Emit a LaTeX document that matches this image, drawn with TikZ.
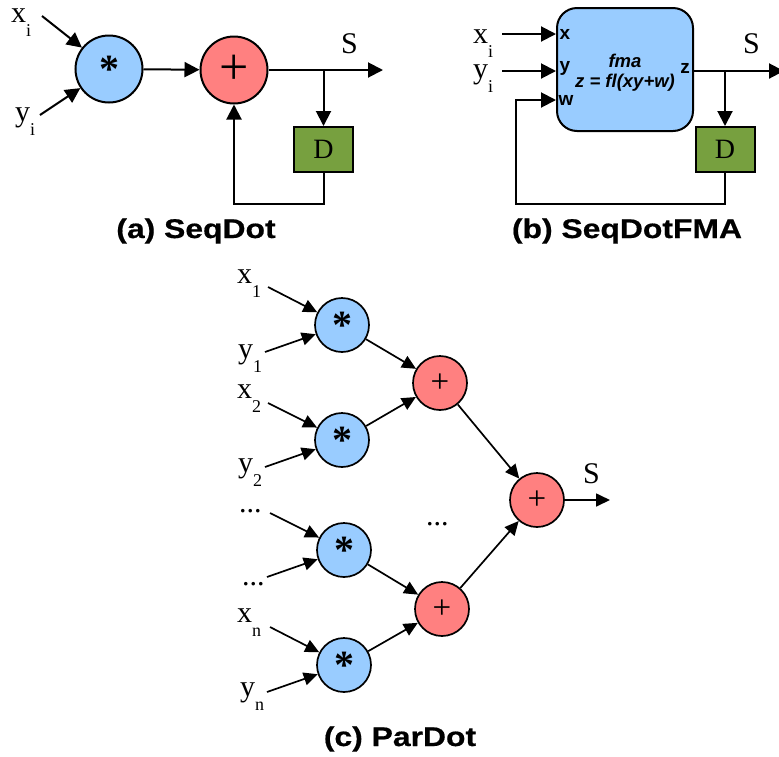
\documentclass[tikz,border=0pt]{standalone}
\usepackage{fontspec}
\setmainfont{Liberation Serif}
\newfontfamily\capfont[FakeStretch=1.18,FakeBold=0.6]{Liberation Sans}
\newfontfamily\portfont{Liberation Sans}
\usetikzlibrary{arrows.meta,calc}
\definecolor{mulblue}{RGB}{153,204,255}
\definecolor{addred}{RGB}{255,128,128}
\definecolor{dgreen}{RGB}{119,160,63}
\newcommand\sublab[2]{#1\raisebox{-14pt}{\fontsize{18}{18}\selectfont #2}}
\tikzset{
  wire/.style={line width=2pt},
  arr/.style={wire,-{Triangle[length=15pt,width=15pt]}},
  arrc/.style={line width=1.7pt,-{Triangle[length=14pt,width=13pt]}},
  mulA/.style={circle,draw,line width=2pt,fill=mulblue,minimum size=67pt,inner sep=0pt,font=\bfseries\fontsize{40}{40}\selectfont},
  addA/.style={circle,draw,line width=2pt,fill=addred,minimum size=67pt,inner sep=0pt,font=\fontsize{52}{52}\selectfont},
  mulC/.style={circle,draw,line width=1.7pt,fill=mulblue,minimum size=54pt,inner sep=0pt,font=\bfseries\fontsize{40}{40}\selectfont},
  addC/.style={circle,draw,line width=1.7pt,fill=addred,minimum size=54pt,inner sep=0pt,font=\fontsize{33}{33}\selectfont},
  dbox/.style={draw,line width=2pt,fill=dgreen,minimum width=59pt,minimum height=45pt,inner sep=0pt,font=\fontsize{28}{28}\selectfont},
  fmabox/.style={draw,line width=2pt,fill=mulblue,rounded corners=20pt,minimum width=136pt,minimum height=123pt,inner sep=0pt},
  lab/.style={inner sep=0pt,anchor=base west,font=\fontsize{30}{36}\selectfont},
  captext/.style={inner sep=0pt,anchor=base,font=\capfont\bfseries\fontsize{27}{30}\selectfont},
  port/.style={inner sep=0pt,font=\portfont\bfseries\fontsize{19}{20}\selectfont},
  fmatxt/.style={inner sep=0pt,font=\portfont\bfseries\itshape\fontsize{18.5}{20}\selectfont},
}
\begin{document}
\begin{tikzpicture}[x=1pt,y=-1pt]
\useasboundingbox (0,0) rectangle (779,756);
% ---------------- (a) SeqDot
\node[mulA] (ma) at (109,69) {*};
\node[addA] (pa) at (234,70) {+};
\node[dbox] (da) at (323.5,149.5) {D};
\node[lab] (xa) at (11,22) {\sublab{x}{i}};
\node[lab] (ya) at (15,121) {\sublab{y}{i}};
\node[lab] (sa) at (341,53) {S};
\coordinate (xas) at (42,16);
\coordinate (yas) at (40,115);
\coordinate (outa) at (383,70);
\coordinate (bra) at (323.5,70);
\draw[arr] (xas) -- (ma);
\draw[arr] (yas) -- (ma);
\draw[arr] (ma) -- (pa);
\draw[arr] (pa) -- (outa);
\draw[arr] (bra) -- (da.north);
\draw[arr] (da.south) -- ++(0,31) -| (pa.south);
\node[captext] (capa) at (196,238) {(a) SeqDot};
% ---------------- (b) SeqDotFMA
\node[fmabox] (fb) at (625,69.5) {};
\node[fmatxt] (fma1) at (625,61) {fma};
\node[fmatxt] (fma2) at (625,83) {z = fl(xy+w)};
\node[port] (px) at (565,34) {x};
\node[port] (py) at (565,68) {y};
\node[port] (pw) at (566,100) {w};
\node[port] (pz) at (685,68) {z};
\node[dbox] (db) at (725,149.5) {D};
\node[lab] (xb) at (473,43) {\sublab{x}{i}};
\node[lab] (yb) at (473,78) {\sublab{y}{i}};
\node[lab] (sb) at (743,53) {S};
\coordinate (xbs) at (502,34);
\coordinate (ybs) at (502,71);
\coordinate (wc) at (516,100);
\coordinate (outb) at (784,71);
\coordinate (brb) at (725,71);
\draw[arr] (xbs) -- (xbs -| fb.west);
\draw[arr] (ybs) -- (ybs -| fb.west);
\draw[arr] (ybs -| fb.east) -- (outb);
\draw[arr] (brb) -- (db.north);
\draw[arr] (db.south) -- ++(0,31) -| (wc) -- (wc -| fb.west);
\node[captext] (capb) at (627,238) {(b) SeqDotFMA};
% ---------------- (c) ParDot
\node[mulC] (c1) at (342,325) {*};
\node[mulC] (c2) at (342,440) {*};
\node[mulC] (c3) at (344,550) {*};
\node[mulC] (c4) at (344,665) {*};
\node[addC] (a1) at (440,383) {+};
\node[addC] (a2) at (442,609) {+};
\node[addC] (a3) at (537,500) {+};
\node[lab] (x1) at (237,283) {\sublab{x}{1}};
\node[lab] (y1) at (238,358) {\sublab{y}{1}};
\node[lab] (x2) at (237,398) {\sublab{x}{2}};
\node[lab] (y2) at (238,472) {\sublab{y}{2}};
\node[lab] (d1) at (239,512) {...};
\node[lab] (d2) at (242,585) {...};
\node[lab] (xn) at (237,622) {\sublab{x}{n}};
\node[lab] (yn) at (240,696) {\sublab{y}{n}};
\node[lab] (dm) at (426,525) {...};
\node[lab] (sc) at (583,483) {S};
\coordinate (x1s) at (268,287);
\coordinate (y1s) at (265,352);
\coordinate (x2s) at (268,403);
\coordinate (y2s) at (265,467);
\coordinate (d1s) at (270,513);
\coordinate (d2s) at (267,577);
\coordinate (xns) at (270,627);
\coordinate (yns) at (267,692);
\coordinate (outc) at (610,500);
\draw[arrc] (x1s) -- (c1);
\draw[arrc] (y1s) -- (c1);
\draw[arrc] (x2s) -- (c2);
\draw[arrc] (y2s) -- (c2);
\draw[arrc] (d1s) -- (c3);
\draw[arrc] (d2s) -- (c3);
\draw[arrc] (xns) -- (c4);
\draw[arrc] (yns) -- (c4);
\draw[arrc] (c1) -- (a1);
\draw[arrc] (c2) -- (a1);
\draw[arrc] (c3) -- (a2);
\draw[arrc] (c4) -- (a2);
\draw[arrc] (a1) -- (a3);
\draw[arrc] (a2) -- (a3);
\draw[arrc] (a3) -- (outc);
\node[captext] (capc) at (400,746) {(c) ParDot};
\end{tikzpicture}
\end{document}
